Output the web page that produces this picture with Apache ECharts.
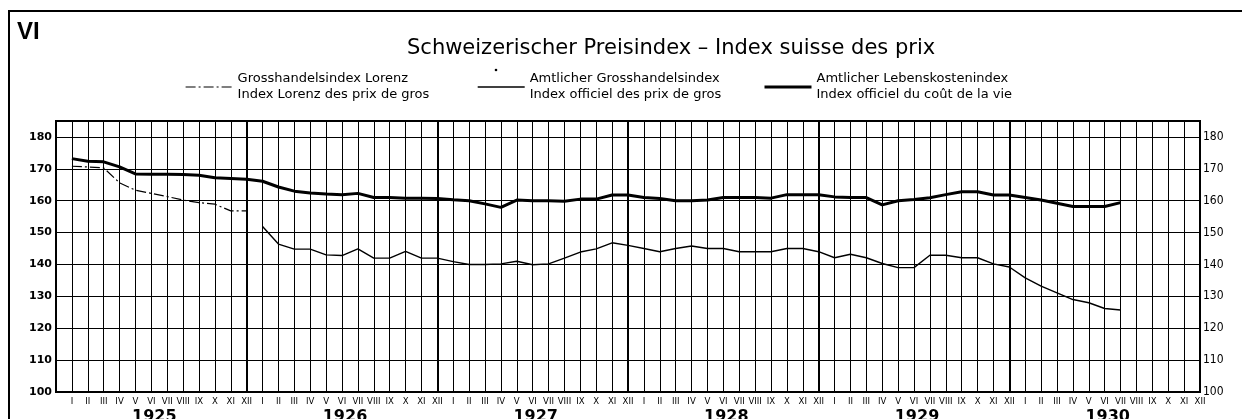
<!DOCTYPE html>
<html>
<head>
<meta charset="utf-8">
<script src="https://cdn.jsdelivr.net/npm/echarts@6/dist/echarts.min.js"></script>
<style>
  html, body { margin: 0; padding: 0; background: #fff; }
  #chart { width: 1242px; height: 419px; }
</style>
</head>
<body>
<div id="chart"></div>
<script>
// Monatsachse I..XII, 1925-1930
const months = ['I', 'II', 'III', 'IV', 'V', 'VI', 'VII', 'VIII', 'IX', 'X', 'XI', 'XII'];
const years = ['1925', '1926', '1927', '1928', '1929', '1930'];

// Serien-Namen (deutsch / französisch)
const namesDe = ['Grosshandelsindex Lorenz', 'Amtlicher Grosshandelsindex', 'Amtlicher Lebenskostenindex'];
const namesFr = ['Index Lorenz des prix de gros', 'Index officiel des prix de gros', 'Index officiel du coût de la vie'];

// Werte Jan 1925 .. Dez 1930 (null = keine Angabe)
const lorenz = [
  170.8, 170.6, 170.3, 165.6, 163.3, 162.3, 161.3, 160.2, 159.4, 158.9, 156.8, 156.8,
  null, null, null, null, null, null, null, null, null, null, null, null,
  null, null, null, null, null, null, null, null, null, null, null, null,
  null, null, null, null, null, null, null, null, null, null, null, null,
  null, null, null, null, null, null, null, null, null, null, null, null,
  null, null, null, null, null, null, null, null, null, null, null, null
];
const grosshandel = [
  null, null, null, null, null, null, null, null, null, null, null, null,
  151.9, 146.4, 144.8, 144.8, 143.0, 142.8, 144.9, 142.0, 142.0, 144.1, 142.0, 142.0,
  140.9, 140.0, 140.0, 140.2, 141.0, 139.9, 140.2, 142.0, 143.9, 144.9, 146.8, 146.0,
  145.0, 144.0, 145.0, 145.8, 145.0, 145.0, 144.0, 144.0, 144.0, 145.0, 145.0, 144.0,
  142.1, 143.2, 142.1, 140.3, 139.0, 139.0, 142.9, 142.9, 142.1, 142.1, 140.2, 139.2,
  135.8, 133.2, 131.1, 129.0, 128.0, 126.2, 125.7, null, null, null, null, null
];
const lebenskosten = [
  173.2, 172.4, 172.2, 170.6, 168.4, 168.3, 168.3, 168.2, 168.0, 167.2, 167.0, 166.7,
  166.1, 164.3, 163.0, 162.4, 162.1, 161.9, 162.3, 161.0, 161.0, 160.8, 160.8, 160.7,
  160.3, 160.0, 159.0, 157.9, 160.2, 160.0, 160.0, 159.8, 160.5, 160.5, 161.8, 161.8,
  161.0, 160.7, 160.0, 160.0, 160.2, 161.0, 161.0, 161.0, 160.8, 161.9, 161.9, 161.9,
  161.2, 161.0, 161.0, 158.7, 160.0, 160.4, 160.9, 161.9, 162.8, 162.8, 161.8, 161.8,
  161.0, 160.2, 159.2, 158.2, 158.2, 158.2, 159.4, null, null, null, null, null
];

// erste Position = Dezember 1924 (linker Rand)
const cats = [''];
years.forEach(function () { months.forEach(function (m) { cats.push(m); }); });
const pad = function (arr) { return [null].concat(arr); };

const font = 'DejaVu Sans';
const chart = echarts.init(document.getElementById('chart'));

const legendBase = function (i, left) {
  return {
    data: [namesDe[i]],
    left: left,
    top: 66,
    itemWidth: 47,
    itemHeight: 14,
    selectedMode: false,
    formatter: function (name) { return name + '\n' + namesFr[namesDe.indexOf(name)]; },
    lineStyle: { width: 'inherit' },
    itemStyle: { opacity: 0 },   // kein Symbol, nur Linie
    textStyle: { fontFamily: font, fontSize: 13, lineHeight: 16, color: '#000' }
  };
};

const option = {
  backgroundColor: '#fff',
  animation: false,
  textStyle: { fontFamily: font, color: '#000' },
  title: {
    text: 'Schweizerischer Preisindex – Index suisse des prix',
    left: 402,
    top: 33,
    textStyle: { fontFamily: font, fontSize: 21, fontWeight: 'normal', color: '#000' }
  },
  legend: [legendBase(0, 180), legendBase(1, 472), legendBase(2, 758)],
  grid: {
    left: 56, right: 42, top: 121, bottom: 27,
    outerBoundsMode: 'none',   // Jahreszahlen dürfen unten abgeschnitten sein
    show: true, borderColor: '#000', borderWidth: 2, backgroundColor: 'transparent'
  },
  xAxis: [
    {
      type: 'category',
      data: cats,
      boundaryGap: false,
      axisLine: { show: false },
      axisTick: { show: false },
      axisLabel: {
        interval: 0, margin: 5,
        fontFamily: 'DejaVu Sans Condensed', fontSize: 9.5, color: '#000'
      },
      splitLine: { show: true, interval: 0, lineStyle: { color: '#000', width: 1 } }
    },
    {
      // Jahreszahlen + dicke Jahreslinien
      type: 'category',
      data: cats,
      boundaryGap: false,
      position: 'bottom',
      axisLine: { show: false },
      axisTick: { show: false },
      axisLabel: {
        interval: 0, margin: 17,
        fontFamily: font, fontWeight: 'bold', fontSize: 16, color: '#000',
        padding: [0, 0, 0, 6],
        formatter: function (v, i) { return i % 12 === 6 ? years[(i - 6) / 12] : ''; }
      },
      splitLine: {
        show: true,
        interval: function (i) { return i % 12 === 0; },
        lineStyle: { color: '#000', width: 2 }
      }
    }
  ],
  yAxis: [
    {
      type: 'value', min: 100, max: 185, interval: 10, position: 'left',
      axisLine: { show: false }, axisTick: { show: false },
      splitLine: { lineStyle: { color: '#000', width: 1 } },
      axisLabel: {
        margin: 4, fontFamily: font, fontWeight: 'bold', fontSize: 11, color: '#000',
        formatter: function (v) { return v % 10 === 0 ? v : ''; }
      }
    },
    {
      type: 'value', min: 100, max: 185, interval: 10, position: 'right',
      axisLine: { show: false }, axisTick: { show: false },
      splitLine: { show: false },
      axisLabel: {
        margin: 3, fontFamily: 'DejaVu Sans Condensed', fontSize: 12, color: '#000',
        formatter: function (v) { return v % 10 === 0 ? v : ''; }
      }
    }
  ],
  graphic: [
    {
      type: 'polyline',
      shape: { points: [[9, 419], [9, 11], [1242, 11]] },
      style: { stroke: '#000', lineWidth: 2, fill: null }
    },
    {
      type: 'text', left: 17, top: 20,
      style: { text: 'VI', font: 'bold 24px "Liberation Sans"', fill: '#000' }
    },
    {
      // Punkt über dem Legendenstrich (Amtlicher Grosshandelsindex)
      type: 'circle', shape: { cx: 496, cy: 70, r: 1.3 }, style: { fill: '#000' }
    }
  ],
  series: [
    {
      name: namesDe[0], type: 'line', data: pad(lorenz), symbol: 'none',
      lineStyle: { color: '#000', width: 1.2, type: [10, 3, 2, 3] }, itemStyle: { color: '#000' }
    },
    {
      name: namesDe[1], type: 'line', data: pad(grosshandel), symbol: 'none',
      lineStyle: { color: '#000', width: 1.4 }, itemStyle: { color: '#000' }
    },
    {
      name: namesDe[2], type: 'line', data: pad(lebenskosten), symbol: 'none',
      lineStyle: { color: '#000', width: 3 }, itemStyle: { color: '#000' }
    }
  ]
};

chart.setOption(option);
window.onresize = function () { chart.resize(); };
</script>
</body>
</html>
